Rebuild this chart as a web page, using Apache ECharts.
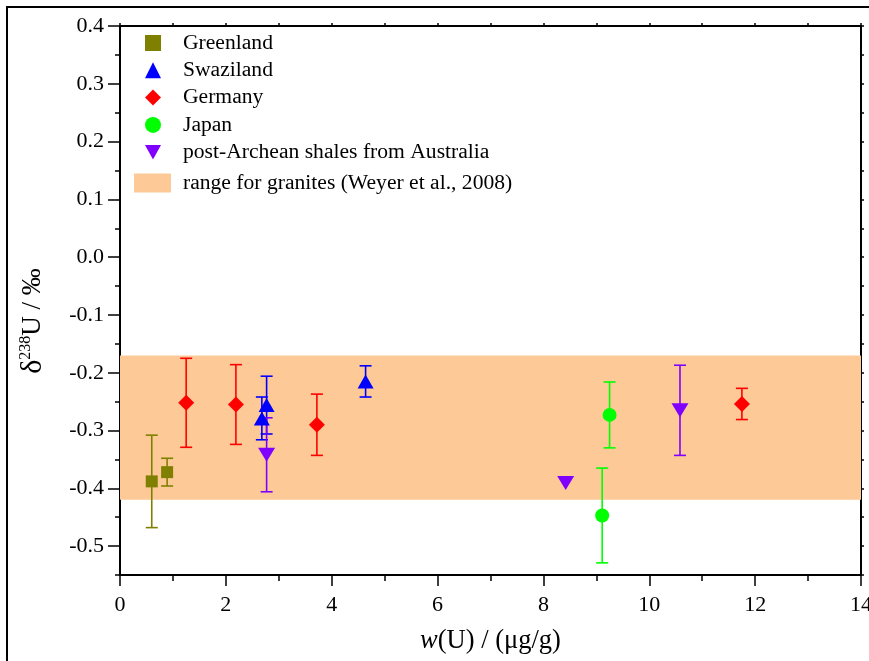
<!DOCTYPE html>
<html>
<head>
<meta charset="utf-8">
<script src="https://cdn.jsdelivr.net/npm/echarts@6/dist/echarts.min.js"></script>
<style>html,body{margin:0;padding:0;background:#fff;overflow:hidden;}#chart{width:869px;height:661px;}</style>
</head>
<body>
<div id="chart"></div>
<script>
// ---- data: [w(U), delta238U, error] ----
const greenland = [[0.60, -0.388, 0.080], [0.89, -0.372, 0.024]];
const swaziland = [[2.68, -0.279, 0.037], [2.77, -0.256, 0.050], [4.64, -0.215, 0.027]];
const germany = [[1.25, -0.252, 0.077], [2.19, -0.255, 0.069], [3.72, -0.290, 0.053], [11.75, -0.254, 0.027]];
const japan = [[9.11, -0.447, 0.082], [9.25, -0.273, 0.057]];
const australia = [[2.77, -0.342, 0.064], [8.42, -0.391, 0], [10.58, -0.265, 0.078]];
const graniteRange = [[0, -0.42, 14, -0.17]];
const yMajorTicks = [-0.5, -0.4, -0.3, -0.2, -0.1, 0.0, 0.1, 0.2, 0.3, 0.4];
const yMinorTicks = [-0.55, -0.45, -0.35, -0.25, -0.15, -0.05, 0.05, 0.15, 0.25, 0.35];
const yAllTicks = yMajorTicks.concat(yMinorTicks);
const names = ['Greenland', 'Swaziland', 'Germany', 'Japan', 'post-Archean shales from Australia'];
const bandName = 'range for granites (Weyer et al., 2008)';

const FONT = "'Liberation Serif', 'Times New Roman', serif";
const chart = echarts.init(document.getElementById('chart'));

function errRender(params, api) {
  const x = api.value(0), y = api.value(1), e = api.value(2);
  if (!e) return null;
  const top = api.coord([x, y + e]), bot = api.coord([x, y - e]);
  const w = 6;
  const style = { stroke: api.visual('color'), lineWidth: 1.6 };
  return { type: 'group', children: [
    { type: 'line', shape: { x1: top[0], y1: top[1], x2: bot[0], y2: bot[1] }, style: style },
    { type: 'line', shape: { x1: top[0] - w, y1: top[1], x2: top[0] + w, y2: top[1] }, style: style },
    { type: 'line', shape: { x1: bot[0] - w, y1: bot[1], x2: bot[0] + w, y2: bot[1] }, style: style }
  ]};
}
function bandRender(params, api) {
  const p1 = api.coord([api.value(0), api.value(3)]);
  const p2 = api.coord([api.value(2), api.value(1)]);
  return { type: 'rect', shape: { x: p1[0], y: p1[1], width: p2[0] - p1[0], height: p2[1] - p1[1] },
    style: { fill: api.visual('color') } };
}

const groups = [
  { name: names[0], data: greenland, color: '#808000', symbol: 'rect', size: 12, rot: 0 },
  { name: names[1], data: swaziland, color: '#0000FF', symbol: 'triangle', size: [16, 14], rot: 0 },
  { name: names[2], data: germany, color: '#FF0000', symbol: 'diamond', size: 16, rot: 0 },
  { name: names[3], data: japan, color: '#00FF00', symbol: 'circle', size: 14, rot: 0 },
  { name: names[4], data: australia, color: '#8000FF', symbol: 'triangle', size: [17, 14], rot: 180 }
];

const series = [{
  name: bandName, type: 'custom', renderItem: bandRender, data: graniteRange,
  encode: { x: [0, 2], y: [1, 3] }, itemStyle: { color: '#FDC996' }, z: 1, silent: true
}];
groups.forEach(function (g) {
  series.push({ name: g.name + ' err', type: 'custom', renderItem: errRender, data: g.data,
    encode: { x: 0, y: 1 }, itemStyle: { color: g.color }, z: 2, silent: true });
});
groups.forEach(function (g) {
  series.push({ name: g.name, type: 'scatter', data: g.data, symbol: g.symbol, symbolSize: g.size,
    symbolRotate: g.rot, itemStyle: { color: g.color, opacity: 1 }, z: 3 });
});

const axisLine = { show: true, onZero: false, lineStyle: { color: '#000', width: 2 } };
const tickStyle = { color: '#000', width: 1.5 };

chart.setOption({
  animation: false,
  backgroundColor: '#fff',
  grid: { left: 120, right: 8, top: 26, bottom: 86, outerBoundsMode: 'none', containLabel: false },
  graphic: [
    { type: 'rect', shape: { x: 7, y: 7, width: 900, height: 700 },
      style: { fill: 'none', stroke: '#000', lineWidth: 2 }, z: 100 },
    { type: 'text', x: 33, y: 321, rotation: Math.PI / 2, z: 100,
      style: { text: '{d|δ}{s|238}{n|U / ‰}', align: 'center', verticalAlign: 'middle',
        rich: {
          d: { fontFamily: FONT, fontSize: 30, fill: '#000', lineHeight: 30 },
          s: { fontFamily: FONT, fontSize: 16, fill: '#000', lineHeight: 16, verticalAlign: 'top' },
          n: { fontFamily: FONT, fontSize: 27, fill: '#000', lineHeight: 30 } } } }
  ],
  legend: [{
    data: groups.map(function (g) { return { name: g.name, icon: g.rot ? 'path://M0,0 L10,0 L5,9 Z' : g.symbol }; }),
    orient: 'vertical', left: 145, top: 32, padding: 0, itemWidth: 16, itemHeight: 16, itemGap: 5.3,
    selectedMode: false,
    textStyle: { fontFamily: FONT, fontSize: 21.6, color: '#000', lineHeight: 21, padding: [0, 0, 0, 17] }
  }, {
    data: [{ name: bandName, icon: 'rect' }],
    orient: 'vertical', left: 134, top: 172, padding: 0, itemWidth: 37, itemHeight: 19,
    selectedMode: false,
    textStyle: { fontFamily: FONT, fontSize: 21.6, color: '#000', lineHeight: 20, padding: [0, 0, 0, 7] }
  }],
  xAxis: [{
    type: 'value', position: 'bottom', min: 0, max: 14, interval: 2,
    axisLine: axisLine,
    axisTick: { show: true, inside: false, length: 11, lineStyle: tickStyle },
    minorTick: { show: true, splitNumber: 2, length: 6, lineStyle: tickStyle },
    splitLine: { show: false }, minorSplitLine: { show: false },
    axisLabel: { fontFamily: FONT, fontSize: 22, color: '#000', margin: 19 },
    name: '{i|w}{n|(U) / (μg/g)}', nameLocation: 'middle', nameGap: 53,
    nameTextStyle: { rich: {
      i: { fontFamily: FONT, fontSize: 26.5, fontStyle: 'italic', color: '#000' },
      n: { fontFamily: FONT, fontSize: 26.5, color: '#000' } } }
  }, {
    type: 'value', position: 'top', min: 0, max: 14, interval: 1,
    axisLine: axisLine,
    axisTick: { show: true, inside: false, length: 3, lineStyle: tickStyle },
    splitLine: { show: false }, axisLabel: { show: false }
  }],
  yAxis: [{
    type: 'value', position: 'left', min: -0.55, max: 0.4,
    axisLine: axisLine,
    axisTick: { show: true, inside: false, length: 12, lineStyle: tickStyle, customValues: yMajorTicks },
    splitLine: { show: false },
    axisLabel: { fontFamily: FONT, fontSize: 22, color: '#000', margin: 16, customValues: yMajorTicks,
      formatter: function (v) { return (Math.abs(v) < 1e-9 ? 0 : v).toFixed(1); } }
  }, {
    type: 'value', position: 'left', min: -0.55, max: 0.4,
    axisLine: { show: false },
    axisTick: { show: true, inside: false, length: 5, lineStyle: tickStyle, customValues: yMinorTicks },
    splitLine: { show: false }, axisLabel: { show: false }
  }, {
    type: 'value', position: 'right', min: -0.55, max: 0.4,
    axisLine: axisLine,
    axisTick: { show: true, inside: false, length: 3, lineStyle: tickStyle, customValues: yAllTicks },
    splitLine: { show: false }, axisLabel: { show: false }
  }],
  series: series
});
</script>
</body>
</html>
